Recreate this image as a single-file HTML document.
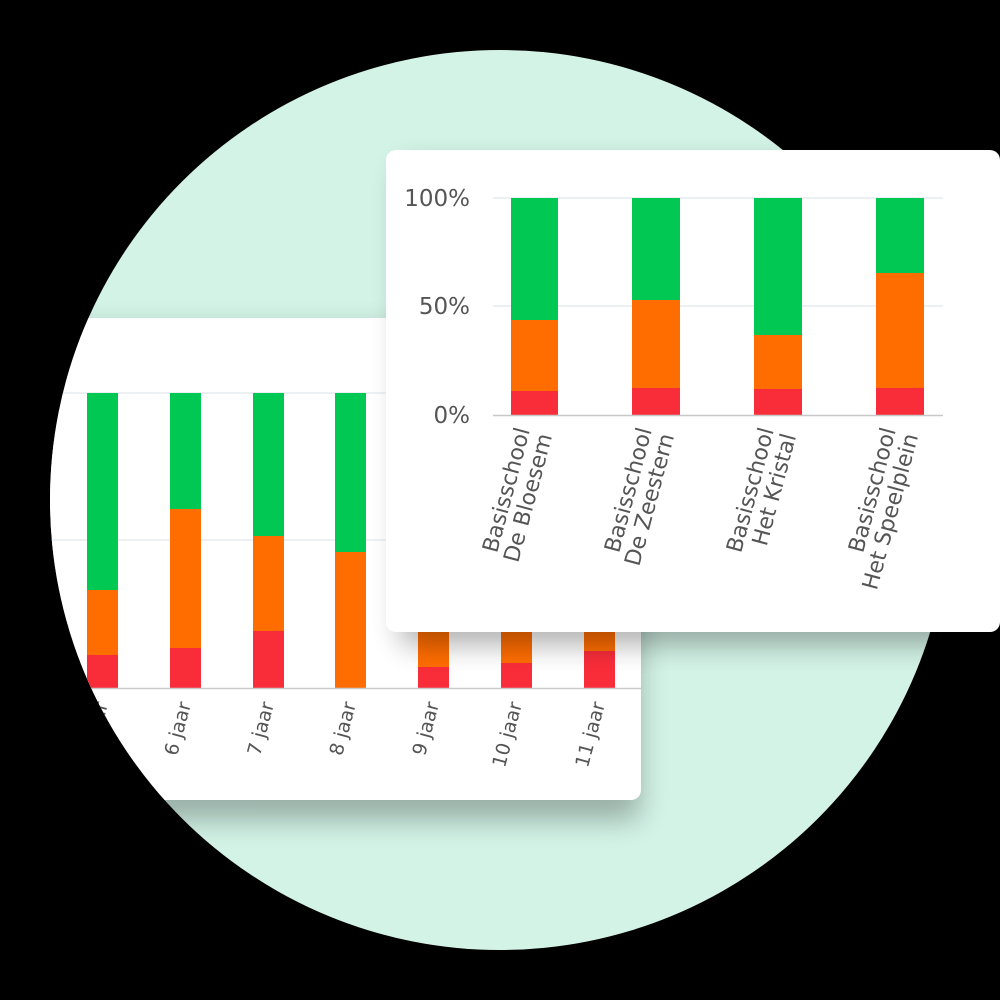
<!DOCTYPE html>
<html><head><meta charset="utf-8"><style>
html,body{margin:0;padding:0;background:#000;}
svg{display:block}
text{font-family:"DejaVu Sans","Liberation Sans",sans-serif;fill:#555;}
</style></head><body>
<svg width="1000" height="1000" viewBox="0 0 1000 1000" xmlns="http://www.w3.org/2000/svg">
<defs>
<clipPath id="c"><circle cx="500" cy="500" r="450"/></clipPath>
<filter id="sh" x="-20%" y="-20%" width="140%" height="150%"><feGaussianBlur stdDeviation="14"/></filter>
</defs>
<rect width="1000" height="1000" fill="#000"/>
<circle cx="500" cy="500" r="450" fill="#d3f3e7"/>
<g clip-path="url(#c)">
  <rect x="20" y="330" width="620" height="490" rx="10" fill="#000" opacity="0.28" filter="url(#sh)"/>
  <rect x="0" y="318" width="641" height="482" rx="10" fill="#fff"/>
  <line x1="0" y1="393" x2="641" y2="393" stroke="#e6ecef" stroke-width="1.5"/>
  <line x1="0" y1="540" x2="641" y2="540" stroke="#e6ecef" stroke-width="1.5"/>
  <g>
    <rect x="87" y="393" width="31" height="197" fill="#00c853"/>
    <rect x="87" y="590" width="31" height="65" fill="#ff6d00"/>
    <rect x="87" y="655" width="31" height="33" fill="#f92d3a"/>

    <rect x="170" y="393" width="31" height="116" fill="#00c853"/>
    <rect x="170" y="509" width="31" height="139" fill="#ff6d00"/>
    <rect x="170" y="648" width="31" height="40" fill="#f92d3a"/>

    <rect x="253" y="393" width="31" height="143" fill="#00c853"/>
    <rect x="253" y="536" width="31" height="95" fill="#ff6d00"/>
    <rect x="253" y="631" width="31" height="57" fill="#f92d3a"/>

    <rect x="335" y="393" width="31" height="159" fill="#00c853"/>
    <rect x="335" y="552" width="31" height="136" fill="#ff6d00"/>

    <rect x="418" y="560" width="31" height="107" fill="#ff6d00"/>
    <rect x="418" y="667" width="31" height="21" fill="#f92d3a"/>

    <rect x="501" y="560" width="31" height="103" fill="#ff6d00"/>
    <rect x="501" y="663" width="31" height="25" fill="#f92d3a"/>

    <rect x="584" y="560" width="31" height="91" fill="#ff6d00"/>
    <rect x="584" y="651" width="31" height="37" fill="#f92d3a"/>
  </g>
  <line x1="0" y1="688.5" x2="641" y2="688.5" stroke="#ccc" stroke-width="1.5"/>
  <g font-size="19" text-anchor="end">
    <text transform="translate(108,704) rotate(-75)">5 jaar</text>
    <text transform="translate(191,704) rotate(-75)">6 jaar</text>
    <text transform="translate(274,704) rotate(-75)">7 jaar</text>
    <text transform="translate(356,704) rotate(-75)">8 jaar</text>
    <text transform="translate(439,704) rotate(-75)">9 jaar</text>
    <text transform="translate(522,704) rotate(-75)">10 jaar</text>
    <text transform="translate(605,704) rotate(-75)">11 jaar</text>
  </g>
</g>
<rect x="400" y="165" width="600" height="480" rx="10" fill="#000" opacity="0.3" filter="url(#sh)"/>
<rect x="386" y="150" width="614" height="482" rx="10" fill="#fff"/>
<line x1="493" y1="198" x2="943" y2="198" stroke="#e6ecef" stroke-width="1.5"/>
<line x1="493" y1="306" x2="943" y2="306" stroke="#e6ecef" stroke-width="1.5"/>
<g font-size="23" text-anchor="end">
  <text x="470" y="206">100%</text>
  <text x="470" y="314">50%</text>
  <text x="470" y="423">0%</text>
</g>
<rect x="511" y="198" width="47" height="122" fill="#00c853"/>
<rect x="511" y="320" width="47" height="71" fill="#ff6d00"/>
<rect x="511" y="391" width="47" height="24" fill="#f92d3a"/>

<rect x="632" y="198" width="48" height="102" fill="#00c853"/>
<rect x="632" y="300" width="48" height="88" fill="#ff6d00"/>
<rect x="632" y="388" width="48" height="27" fill="#f92d3a"/>

<rect x="754" y="198" width="48" height="137" fill="#00c853"/>
<rect x="754" y="335" width="48" height="54" fill="#ff6d00"/>
<rect x="754" y="389" width="48" height="26" fill="#f92d3a"/>

<rect x="876" y="198" width="48" height="75" fill="#00c853"/>
<rect x="876" y="273" width="48" height="115" fill="#ff6d00"/>
<rect x="876" y="388" width="48" height="27" fill="#f92d3a"/>
<line x1="493" y1="415.5" x2="943" y2="415.5" stroke="#c8c8c8" stroke-width="1.5"/>
<g font-size="22" text-anchor="end">
  <text transform="translate(530,430) rotate(-75)"><tspan x="0" y="0">Basisschool</tspan><tspan x="0" y="23">De Bloesem</tspan></text>
  <text transform="translate(652,430) rotate(-75)"><tspan x="0" y="0">Basisschool</tspan><tspan x="0" y="23">De Zeestern</tspan></text>
  <text transform="translate(774,430) rotate(-75)"><tspan x="0" y="0">Basisschool</tspan><tspan x="0" y="23">Het Kristal</tspan></text>
  <text transform="translate(896,430) rotate(-75)"><tspan x="0" y="0">Basisschool</tspan><tspan x="0" y="23">Het Speelplein</tspan></text>
</g>
</svg>
</body></html>
